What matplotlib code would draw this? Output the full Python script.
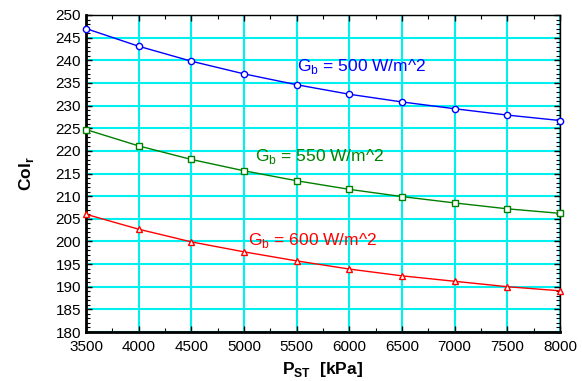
import matplotlib
matplotlib.use("Agg")
import matplotlib.pyplot as plt
from matplotlib.ticker import MultipleLocator

plt.rcParams["font.family"] = ["Liberation Sans", "DejaVu Sans"]

p_st = [3500, 4000, 4500, 5000, 5500, 6000, 6500, 7000, 7500, 8000]
col_500 = [247.0, 243.1, 239.8, 237.0, 234.6, 232.5, 230.8, 229.3, 227.9, 226.7]
col_550 = [224.7, 221.1, 218.1, 215.6, 213.4, 211.5, 209.9, 208.5, 207.2, 206.2]
col_600 = [206.0, 202.7, 199.9, 197.7, 195.7, 193.9, 192.4, 191.2, 190.0, 189.1]

fig = plt.figure(figsize=(5.82, 3.81), dpi=100)
ax = fig.add_axes([86 / 582, 1 - 332 / 381, (560 - 86) / 582, (332 - 15) / 381])

ax.plot(p_st, col_500, color="blue", lw=1, marker="o", ms=4.5, mfc="white", mec="blue", clip_on=False, zorder=3)
ax.plot(p_st, col_550, color="green", lw=1, marker="s", ms=5, mfc="white", mec="green", clip_on=False, zorder=3)
ax.plot(p_st, col_600, color="red", lw=1, marker="^", ms=5, mfc="white", mec="red", clip_on=False, zorder=3)

ax.text(5500, 238.7, "G$_\\mathregular{b}$ = 500 W/m^2", color="blue", fontsize=12.5, va="center")
ax.text(5100, 218.7, "G$_\\mathregular{b}$ = 550 W/m^2", color="green", fontsize=12.5, va="center")
ax.text(5040, 200.3, "G$_\\mathregular{b}$ = 600 W/m^2", color="red", fontsize=12.5, va="center")

ax.set_xlim(3500, 8000)
ax.set_ylim(180, 250)
ax.xaxis.set_major_locator(MultipleLocator(500))
ax.xaxis.set_minor_locator(MultipleLocator(250))
ax.yaxis.set_major_locator(MultipleLocator(5))
ax.yaxis.set_minor_locator(MultipleLocator(1))
ax.grid(True, which="major", color="#00f0f0", lw=1.5)
ax.set_axisbelow(True)
ax.tick_params(which="both", direction="in", top=True, right=True, labelsize=11, color="black")
ax.tick_params(which="major", length=4, width=1)
ax.tick_params(which="minor", length=3, width=0.8)
ax.tick_params(axis="x", pad=6)

for side in ["left", "bottom"]:
    ax.spines[side].set_linewidth(2)
for side in ["top", "right"]:
    ax.spines[side].set_linewidth(1)

ax.set_xlabel("P$_\\mathregular{ST}$  [kPa]", fontsize=12.5, fontweight="bold", labelpad=4)
ax.set_ylabel("Col$_\\mathregular{r}$", fontsize=12.5, fontweight="bold", labelpad=14)

fig.savefig("out.png", dpi=100)
